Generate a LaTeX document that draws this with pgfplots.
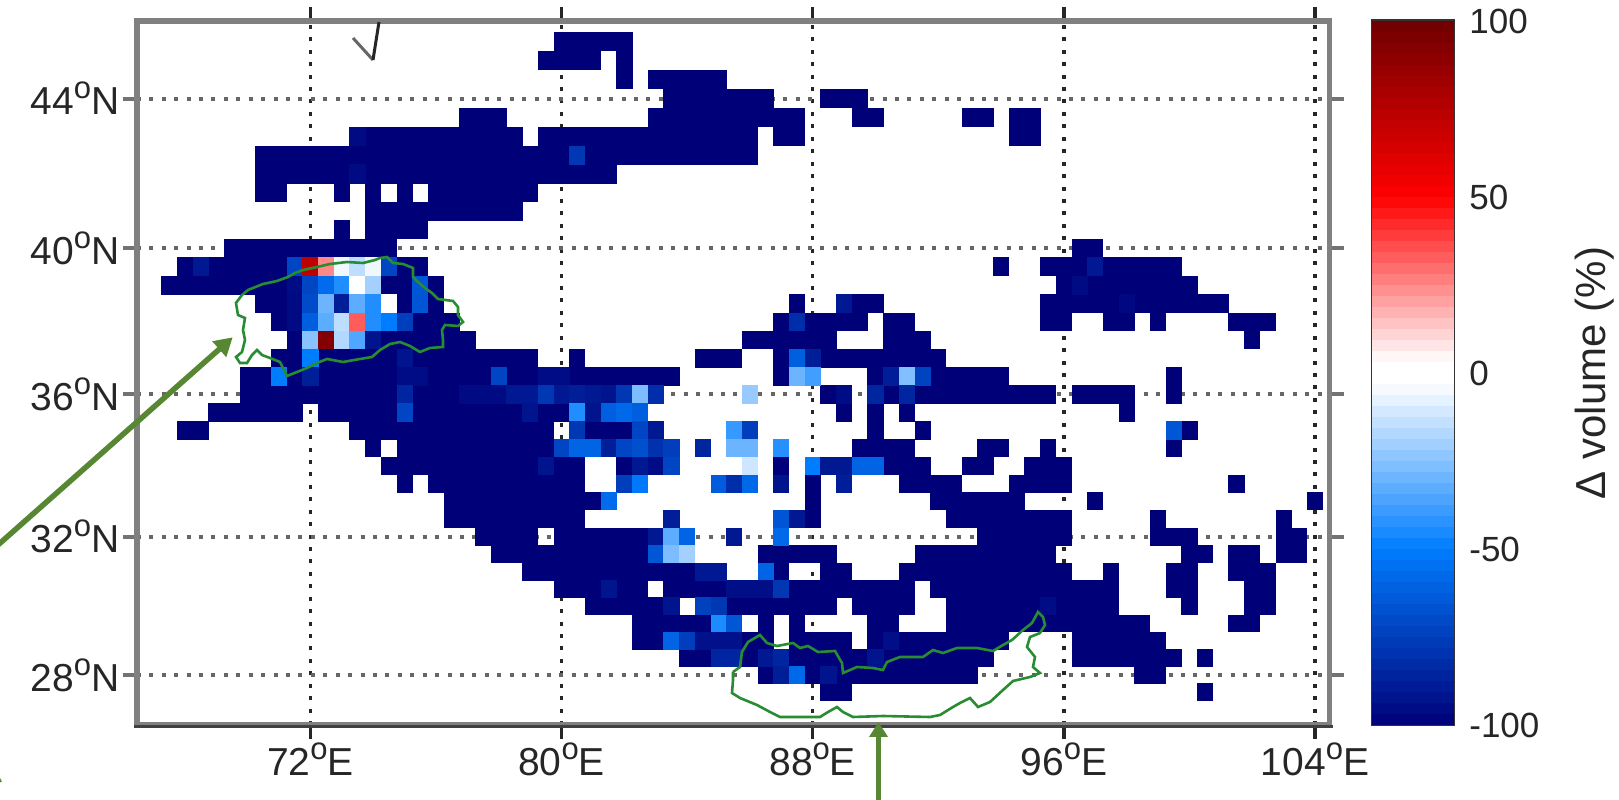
\documentclass[border=0pt]{standalone}
\usepackage{fontspec}
\setmainfont{Liberation Sans}
\usepackage{pgfplots}
\pgfplotsset{compat=1.18}
\usetikzlibrary{arrows.meta}
\definecolor{arrowgreen}{RGB}{88,135,52}
\definecolor{linegreen}{RGB}{40,140,50}
\pgfdeclareplotmark{run}{%
  \pgfmathsetmacro\rw{(\rb-\ra+0.5)*31.39+0.5}%
  \pgfmathsetmacro\rh{(34.1+0.24*(\rl-28))*0.5+0.5}%
  \pgfpathrectangle{\pgfpoint{-8pt}{-\rh pt/2}}{\pgfpoint{\rw pt}{\rh pt}}%
  \pgfusepathqfill}
\pgfdeclareplotmark{lev}{%
  \pgfpathrectangle{\pgfpoint{-41pt}{-5.8pt}}{\pgfpoint{82pt}{11.6pt}}%
  \pgfusepathqfill}
\newcommand\dg{\raisebox{16pt}{\fontsize{31}{31}\selectfont o}}
\pgfplotsset{
  colormap={bwr}{rgb255(0pt)=(0,0,120) rgb255(50pt)=(0,125,255) rgb255(97pt)=(255,255,255) rgb255(103pt)=(255,255,255) rgb255(150pt)=(255,0,0) rgb255(200pt)=(110,0,0)},
}
\begin{document}
\begin{tikzpicture}[x=1pt,y=1pt]
\begin{axis}[
  at={(136.8pt,75pt)}, anchor=south west,
  scale only axis, width=1192.9pt, height=704pt,
  xmin=66.47, xmax=104.47, ymin=26.525, ymax=46.03,
  y coord trafo/.code={\pgfmathparse{34.1*(#1-28)+0.12*(#1-28)*(#1-28)}},
  axis on top,
  axis line style={draw=black!50, line width=5.5pt},
  xtick={72,80,88,96,104}, ytick={28,32,36,40,44},
  xticklabels={72\dg E,80\dg E,88\dg E,96\dg E,104\dg E},
  yticklabels={28\dg N,32\dg N,36\dg N,40\dg N,44\dg N},
  tick align=outside, major tick length=14pt,
  x tick style={black!85, line width=3.5pt},
  y tick style={black!55, line width=4pt},
  xmajorgrids, ymajorgrids,
  x grid style={black!85, line width=3.5pt, dash pattern=on 4pt off 8.43pt},
  y grid style={black!60, line width=4pt, dash pattern=on 4pt off 8.43pt},
  tick label style={font=\fontsize{39}{42}\selectfont, text=black!85},
  colormap name=bwr,
  point meta min=-100, point meta max=100,
]
\addplot[
  scatter, only marks, mark=run, point meta=explicit,
  scatter/use mapped color={draw=none, fill=mapped color},
  visualization depends on={value \thisrow{lon}\as\ra},
  visualization depends on={value \thisrow{lon2}\as\rb},
  visualization depends on={value \thisrow{lat}\as\rl},
] table[x=lon, y=lat, meta=val] {
lat lon lon2 val
45.5 80 82 -100
45 79.5 81 -100
45 82 82 -100
44.5 82 82 -100
44.5 83 85 -100
44 83.5 86.5 -100
44 88.5 89.5 -100
43.5 77 78 -100
43.5 83 87.5 -100
43.5 89.5 90 -100
43.5 93 93.5 -100
43.5 94.5 95 -100
43 73.5 78.5 -100
43 79.5 86 -100
43 87 87.5 -100
43 94.5 95 -100
42.5 70.5 86 -100
42 70.5 81.5 -100
41.5 70.5 71 -100
41.5 73 73 -100
41.5 74 74 -100
41.5 75 75 -100
41.5 76 79 -100
41 74 78.5 -100
40.5 73 73 -100
40.5 74 75.5 -100
40 69.5 74.5 -100
40 96.5 97 -100
39.5 68 75.5 -100
39.5 94 94 -100
39.5 95.5 99.5 -100
39 67.5 76 -100
39 96 100 -100
38.5 70.5 76 -100
38.5 87.5 87.5 -100
38.5 89 90 -100
38.5 95.5 101 -100
38 71 76.5 -100
38 87 89.5 -100
38 90.5 91 -100
38 95.5 96 -100
38 97.5 98 -100
38 99 99 -100
38 101.5 102.5 -100
37.5 71.5 77 -100
37.5 86 88.5 -100
37.5 90.5 91.5 -100
37.5 102 102 -100
37 71 79 -100
37 80.5 80.5 -100
37 84.5 85.5 -100
37 87 92 -100
36.5 70 83.5 -100
36.5 87 88 -100
36.5 90 94 -100
36.5 99.5 99.5 -100
36 70 83 -100
36 86 86 -100
36 88.5 89 -100
36 90 95.5 -100
36 96.5 98 -100
36 99.5 99.5 -100
35.5 69 71.5 -100
35.5 72.5 82.5 -100
35.5 89 89 -100
35.5 90 90 -100
35.5 91 91 -100
35.5 98 98 -100
35 68 68.5 -100
35 73.5 79.5 -100
35 80.5 83 -100
35 85.5 86 -100
35 90 90 -100
35 91.5 91.5 -100
35 99.5 100 -100
34.5 74 74 -100
34.5 75 83.5 -100
34.5 84.5 84.5 -100
34.5 85.5 86 -100
34.5 87 87 -100
34.5 89.5 91 -100
34.5 93.5 94 -100
34.5 95.5 95.5 -100
34.5 99.5 99.5 -100
34 74.5 80.5 -100
34 82 83.5 -100
34 86 86 -100
34 87 87 -100
34 88 91.5 -100
34 93 93.5 -100
34 95 96 -100
33.5 75 75 -100
33.5 76 80.5 -100
33.5 82 82.5 -100
33.5 85 86 -100
33.5 87 87 -100
33.5 88 88 -100
33.5 89 89 -100
33.5 91 92.5 -100
33.5 94.5 96 -100
33.5 101.5 101.5 -100
33 76.5 81.5 -100
33 88 88 -100
33 92 94.5 -100
33 97 97 -100
33 104 104 -100
32.5 76.5 80.5 -100
32.5 83.5 83.5 -100
32.5 87 88 -100
32.5 92.5 96 -100
32.5 99 99 -100
32.5 103 103 -100
32 77.5 79 -100
32 80 84 -100
32 85.5 85.5 -100
32 87 87 -100
32 93.5 96 -100
32 99 100 -100
32 103 103.5 -100
31.5 78 84 -100
31.5 86.5 88.5 -100
31.5 91.5 95.5 -100
31.5 100 100.5 -100
31.5 101.5 102 -100
31.5 103 103.5 -100
31 79 85 -100
31 86.5 87 -100
31 88.5 89 -100
31 91 96 -100
31 97.5 97.5 -100
31 99.5 100 -100
31 101.5 102.5 -100
30.5 80 82.5 -100
30.5 83.5 91 -100
30.5 92 97.5 -100
30.5 99.5 100 -100
30.5 102 102.5 -100
30 81 83.5 -100
30 84.5 88.5 -100
30 89.5 91 -100
30 92.5 97.5 -100
30 100 100 -100
30 102 102.5 -100
29.5 82.5 85.5 -100
29.5 86.5 86.5 -100
29.5 87.5 87.5 -100
29.5 90 90.5 -100
29.5 92.5 98.5 -100
29.5 101.5 102 -100
29 82.5 86.5 -100
29 87.5 89 -100
29 90 94 -100
29 96.5 99 -100
28.5 84 93.5 -100
28.5 96.5 99.5 -100
28.5 100.5 100.5 -100
28 86.5 93 -100
28 98.5 99 -100
27.5 88.5 89 -100
27.5 100.5 100.5 -100
43 73.5 73.5 -96
42.5 80.5 80.5 -78
42 73.5 73.5 -96
39.5 68.5 68.5 -90
39.5 71.5 71.5 -72
39.5 72 72 72
39.5 72.5 72.5 25
39.5 73 73 -6
39.5 73.5 73.5 -15
39.5 74 74 -6
39.5 74.5 74.5 -72
39 71.5 71.5 -95
39 72 72 -72
39 72.5 72.5 -57
39 73 73 -44
39 73.5 73.5 0
39 74 74 -20
39 75.5 75.5 -65
38.5 71.5 71.5 -96
38.5 72 72 -70
38.5 72.5 72.5 -30
38.5 73 73 -88
38.5 73.5 73.5 -33
38.5 74 74 -44
38.5 74.5 74.5 0
38.5 75.5 75.5 -66
38.5 89 89 -90
38 71.5 71.5 -96
38 72 72 -62
38 72.5 72.5 -33
38 73 73 -15
38 73.5 73.5 33
38 74 74 -44
38 74.5 74.5 -50
38 75 75 -75
38 87.5 87.5 -82
37.5 72 72 -25
37.5 72.5 72.5 92
37.5 73 73 -17
37.5 73.5 73.5 -35
37.5 74 74 -92
37 72 72 -50
37 75 75 -92
37 87.5 87.5 -62
37 88 88 -88
36.5 71 71 -50
36.5 72 72 -88
36.5 75 75.5 -95
36.5 78 78 -72
36.5 79.5 80 -95
36.5 87.5 87.5 -30
36.5 88 88 -38
36.5 90.5 90.5 -88
36.5 91 91 -26
36.5 91.5 91.5 -73
36 75 75 -85
36 77 78 -96
36 78.5 79 -90
36 79.5 79.5 -78
36 80 80 -90
36 80.5 80.5 -88
36 81 81 -90
36 81.5 81.5 -92
36 82 82 -78
36 82.5 82.5 -27
36 83 83 -82
36 86 86 -22
36 89 89 -95
36 90 90 -85
36 91 91 -85
35.5 75 75 -72
35.5 79 79 -92
35.5 80.5 80.5 -44
35.5 81 81 -92
35.5 81.5 81.5 -62
35.5 82 82 -58
35.5 82.5 82.5 -62
35 80.5 80.5 -78
35 82.5 82.5 -72
35 83 83 -90
35 85.5 85.5 -40
35 86 86 -75
35 99.5 99.5 -65
34.5 80 80 -72
34.5 80.5 81 -60
34.5 81.5 81.5 -88
34.5 82 82 -72
34.5 82.5 82.5 -68
34.5 83 83 -80
34.5 83.5 83.5 -75
34.5 84.5 84.5 -85
34.5 85.5 86 -30
34.5 87 87 -43
34 79.5 79.5 -92
34 82.5 82.5 -90
34 83 83 -95
34 83.5 83.5 -72
34 86 86 -12
34 88 88 -50
34 88.5 89 -90
34 89.5 90 -60
33.5 82 82 -75
33.5 82.5 82.5 -52
33.5 85 85 -63
33.5 85.5 85.5 -82
33.5 86 86 -58
33.5 87 87 -92
33.5 89 89 -88
33 81.5 81.5 -57
32.5 83.5 83.5 -88
32.5 87 87 -66
32.5 87.5 87.5 -90
32 83 83 -90
32 83.5 83.5 -33
32 84 84 -60
32 85.5 85.5 -90
32 87 87 -58
31.5 83 83 -65
31.5 83.5 83.5 -27
31.5 84 84 -20
31 84.5 85 -90
31 86.5 86.5 -60
30.5 81.5 81.5 -92
30.5 85.5 86.5 -94
30.5 87 87 -78
30 83.5 83.5 -92
30 84.5 84.5 -74
30 85 85 -78
29.5 85 85 -45
29.5 85.5 85.5 -65
29 83.5 83.5 -60
29 84 84 -75
29 84.5 85.5 -93
29 90.5 90.5 -94
28.5 85 85.5 -85
28.5 86.5 86.5 -90
28.5 87 87 -85
28.5 90 90 -92
28 87 87 -88
28 87.5 87.5 -58
28 88.5 88.5 -92
39.5 97 97 -90
39 96.5 96.5 -96
38.5 98 98 -97
30 95.5 95.5 -95
};
\end{axis}
\begin{axis}[
  at={(1372.8pt,75pt)}, anchor=south west,
  scale only axis, width=81pt, height=704pt,
  xmin=0, xmax=1, ymin=-100, ymax=100,
  axis on top,
  axis line style={draw=black!80, line width=3pt},
  xtick=\empty,
  ytick={-100,-50,0,50,100}, yticklabels={-100,-50,0,50,100},
  ytick pos=right, yticklabel pos=right, tick align=inside, major tick length=6pt,
  y tick style={black!85, line width=1.5pt},
  yticklabel style={font=\fontsize{35}{38}\selectfont, text=black!85, xshift=12pt, anchor=west},
  colormap name=bwr,
  point meta min=-100, point meta max=100,
]
\addplot[
  scatter, only marks, mark=lev, point meta=explicit,
  scatter/use mapped color={draw=none, fill=mapped color},
] table[x=x, y=v, meta=v] {
x v
0.5 -98.44
0.5 -95.31
0.5 -92.19
0.5 -89.06
0.5 -85.94
0.5 -82.81
0.5 -79.69
0.5 -76.56
0.5 -73.44
0.5 -70.31
0.5 -67.19
0.5 -64.06
0.5 -60.94
0.5 -57.81
0.5 -54.69
0.5 -51.56
0.5 -48.44
0.5 -45.31
0.5 -42.19
0.5 -39.06
0.5 -35.94
0.5 -32.81
0.5 -29.69
0.5 -26.56
0.5 -23.44
0.5 -20.31
0.5 -17.19
0.5 -14.06
0.5 -10.94
0.5 -7.81
0.5 -4.69
0.5 -1.56
0.5 1.56
0.5 4.69
0.5 7.81
0.5 10.94
0.5 14.06
0.5 17.19
0.5 20.31
0.5 23.44
0.5 26.56
0.5 29.69
0.5 32.81
0.5 35.94
0.5 39.06
0.5 42.19
0.5 45.31
0.5 48.44
0.5 51.56
0.5 54.69
0.5 57.81
0.5 60.94
0.5 64.06
0.5 67.19
0.5 70.31
0.5 73.44
0.5 76.56
0.5 79.69
0.5 82.81
0.5 85.94
0.5 89.06
0.5 92.19
0.5 95.31
0.5 98.44
};
\end{axis}
\begin{axis}[
  at={(136.8pt,75pt)}, anchor=south west,
  scale only axis, width=1192.9pt, height=704pt,
  xmin=136.8, xmax=1329.7, ymin=-725, ymax=-21,
  hide axis, clip=false,
]
\addplot[draw=black!75, line width=3pt, forget plot] coordinates {(134,-726.5)(1332.5,-726.5)};
\addplot[linegreen, line width=2.6pt, forget plot] coordinates {
(375,-260)(380,-258)(387,-257)(393,-263)(403,-264)(413,-268)(413,-277)(418,-282)(425,-288)(432,-293)(438,-299)(453,-301)(458,-307)(458,-315)(463,-322)(458,-326)(445,-325)(442,-330)(443,-340)(443,-347)(430,-348)(420,-352)(410,-346)(400,-342)(390,-344)(380,-350)(372,-357)(360,-359)(343,-362)(327,-359)(317,-363)(307,-368)(297,-372)(287,-376)(283,-368)(280,-362)(270,-358)(262,-355)(257,-350)(252,-355)(247,-363)(240,-363)(236,-357)(242,-352)(245,-340)(243,-330)(245,-318)(238,-315)(236,-303)(242,-295)(248,-290)(263,-284)(277,-281)(288,-277)(295,-273)(303,-270)(317,-267)(330,-264)(347,-262)(363,-263)(375,-260)};
\addplot[linegreen, line width=2.6pt, forget plot] coordinates {
(733,-672)(740,-667)(742,-652)(748,-642)(760,-635)(767,-643)(777,-646)(793,-643)(800,-648)(808,-646)(818,-652)(835,-651)(842,-663)(843,-673)(857,-667)(873,-668)(883,-670)(887,-662)(900,-657)(923,-657)(933,-650)(943,-653)(957,-648)(977,-648)(993,-651)(1003,-645)(1012,-640)(1023,-630)(1032,-623)(1038,-612)(1043,-617)(1045,-625)(1040,-633)(1030,-637)(1027,-647)(1035,-657)(1033,-667)(1040,-673)(1030,-677)(1013,-681)(1003,-690)(990,-702)(978,-707)(970,-698)(960,-703)(953,-707)(940,-715)(930,-717)(883,-716)(853,-717)(843,-712)(837,-707)(828,-712)(820,-717)(780,-717)(770,-712)(757,-705)(740,-698)(732,-693)(733,-680)(733,-672)};
\addplot[arrowgreen, line width=5.5pt, -{Triangle[length=18pt,width=20pt]}, forget plot] coordinates {(-10,-552)(232.7,-337.3)};
\addplot[arrowgreen, line width=5pt, -{Triangle[length=15pt,width=18pt]}, forget plot] coordinates {(878.5,-815)(878.5,-722)};
\addplot[arrowgreen, line width=2pt, forget plot] coordinates {(-1,-778)(1,-782)};
\addplot[black!60, line width=3pt, forget plot] coordinates {(353,-38)(373,-60)};
\addplot[black!85, line width=3pt, forget plot] coordinates {(373,-60)(379,-22)};
\node[rotate=90, font=\fontsize{42}{44}\selectfont, text=black!85] at (axis cs:1595,-373) {Δ volume (\%)};
\end{axis}
\pgfresetboundingbox
\path[use as bounding box] (0,0) rectangle (1619,800);
\end{tikzpicture}
\end{document}
